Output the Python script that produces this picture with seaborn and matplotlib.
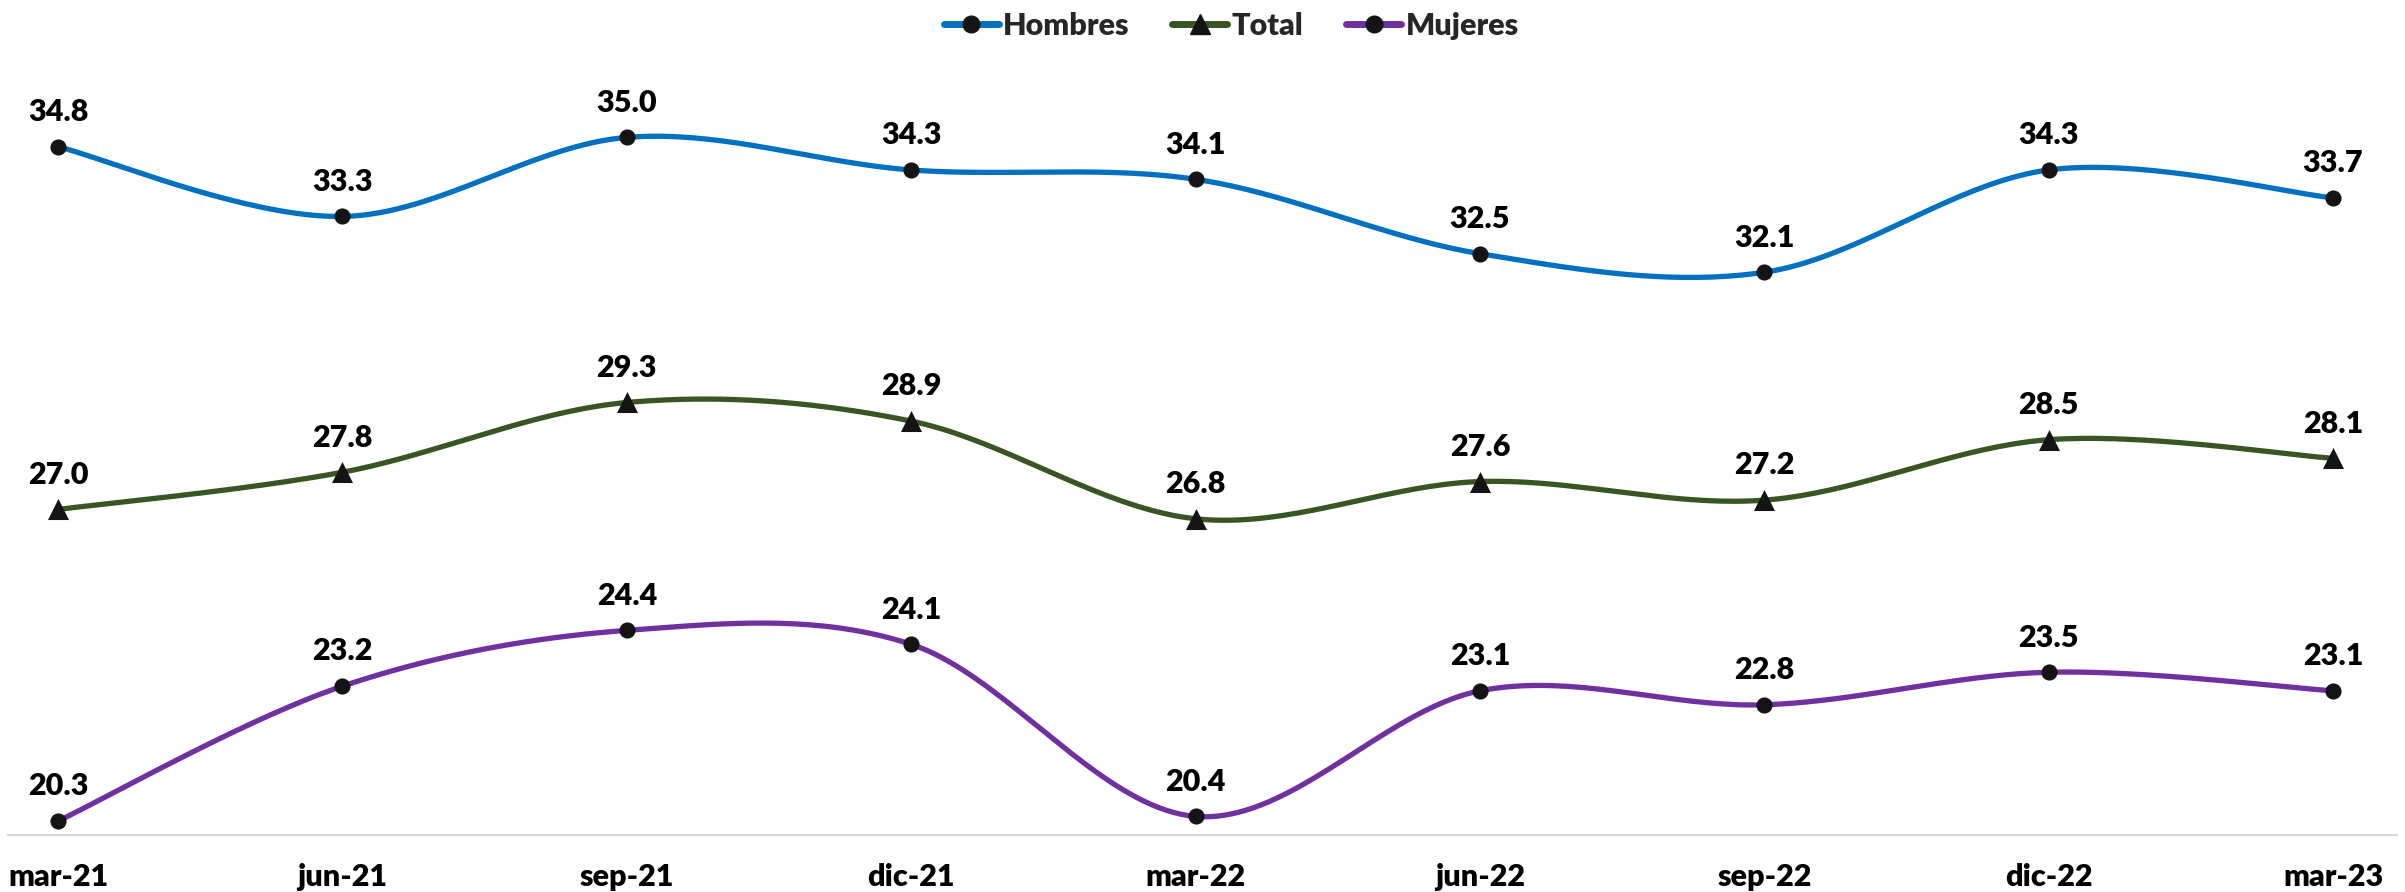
import numpy as np
import pandas as pd
import matplotlib
matplotlib.use("Agg")
import matplotlib.pyplot as plt
from matplotlib.lines import Line2D
import seaborn as sns

# Data
periods = ["mar-21", "jun-21", "sep-21", "dic-21", "mar-22", "jun-22", "sep-22", "dic-22", "mar-23"]
hombres = [34.8, 33.3, 35.0, 34.3, 34.1, 32.5, 32.1, 34.3, 33.7]
total = [27.0, 27.8, 29.3, 28.9, 26.8, 27.6, 27.2, 28.5, 28.1]
mujeres = [20.3, 23.2, 24.4, 24.1, 20.4, 23.1, 22.8, 23.5, 23.1]

series_names = ["Hombres", "Total", "Mujeres"]
series_vals = [hombres, total, mujeres]
colors = ["#0070C0", "#375623", "#7030A0"]
markers = ["o", "^", "o"]

sns.set_theme(style="white")
plt.rcParams["font.family"] = ["Lato", "DejaVu Sans"]
plt.rcParams["font.weight"] = "heavy"
WEIGHT = "heavy"


# Excel-style smoothed line (Bezier with Catmull-Rom control points)
def smooth(x, y, n=40):
    x = np.asarray(x, float)
    y = np.asarray(y, float)
    px = np.concatenate([[x[0]], x, [x[-1]]])
    py = np.concatenate([[y[0]], y, [y[-1]]])
    xs, ys = [], []
    t = np.linspace(0, 1, n)
    for i in range(1, len(px) - 2):
        p0 = np.array([px[i], py[i]])
        p3 = np.array([px[i + 1], py[i + 1]])
        c1 = p0 + (np.array([px[i + 1], py[i + 1]]) - np.array([px[i - 1], py[i - 1]])) / 6
        c2 = p3 - (np.array([px[i + 2], py[i + 2]]) - np.array([px[i], py[i]])) / 6
        b = ((1 - t) ** 3)[:, None] * p0 + (3 * (1 - t) ** 2 * t)[:, None] * c1 \
            + (3 * (1 - t) * t ** 2)[:, None] * c2 + (t ** 3)[:, None] * p3
        xs.append(b[:, 0])
        ys.append(b[:, 1])
    return np.concatenate(xs), np.concatenate(ys)


fig = plt.figure(figsize=(24.05, 8.92), dpi=100)
ax = fig.add_axes([8 / 2405, 1 - 835 / 892, 2389 / 2405, 772 / 892])

xpos = np.arange(len(periods))
for name, vals, col, mk in zip(series_names, series_vals, colors, markers):
    sx, sy = smooth(xpos, vals)
    curve = pd.DataFrame({"x": sx, "y": sy})
    sns.lineplot(data=curve, x="x", y="y", color=col, linewidth=3.8, ax=ax,
                 sort=False, estimator=None)
    pts = pd.DataFrame({"x": xpos, "y": vals})
    sns.scatterplot(data=pts, x="x", y="y", marker=mk, color="#141414",
                    s=230 if mk == "^" else 135, edgecolor="#141414",
                    linewidth=0, zorder=5, ax=ax)
    for xi, v in zip(xpos, vals):
        ax.annotate(f"{v:.1f}", (xi, v), xytext=(0, 25), textcoords="offset points",
                    ha="center", va="center", fontsize=22, fontweight=WEIGHT,
                    color="black")

ax.set_xlim(-0.176, 8.225)
ax.set_ylim(20, 36.6)
ax.set_xticks(xpos)
ax.set_xticklabels(periods, fontsize=22, fontweight=WEIGHT, color="black")
ax.tick_params(axis="x", length=0, pad=20)
ax.set_yticks([])
ax.set_xlabel("")
ax.set_ylabel("")
for s in ["top", "right", "left"]:
    ax.spines[s].set_visible(False)
ax.spines["bottom"].set_color("#D9D9D9")
ax.spines["bottom"].set_linewidth(1.5)

handles = [Line2D([0], [0], color=c, lw=5, solid_capstyle="round", marker=m,
                  markersize=15 if m == "^" else 12,
                  markerfacecolor="#141414", markeredgecolor="#141414")
           for c, m in zip(colors, markers)]
fig.legend(handles, series_names, loc="center", bbox_to_anchor=(0.512, 1 - 26 / 892),
           ncol=3, frameon=False, handlelength=1.8, handletextpad=0.15,
           columnspacing=1.4, prop={"weight": WEIGHT, "size": 22})

fig.savefig("out.png", dpi=100)
